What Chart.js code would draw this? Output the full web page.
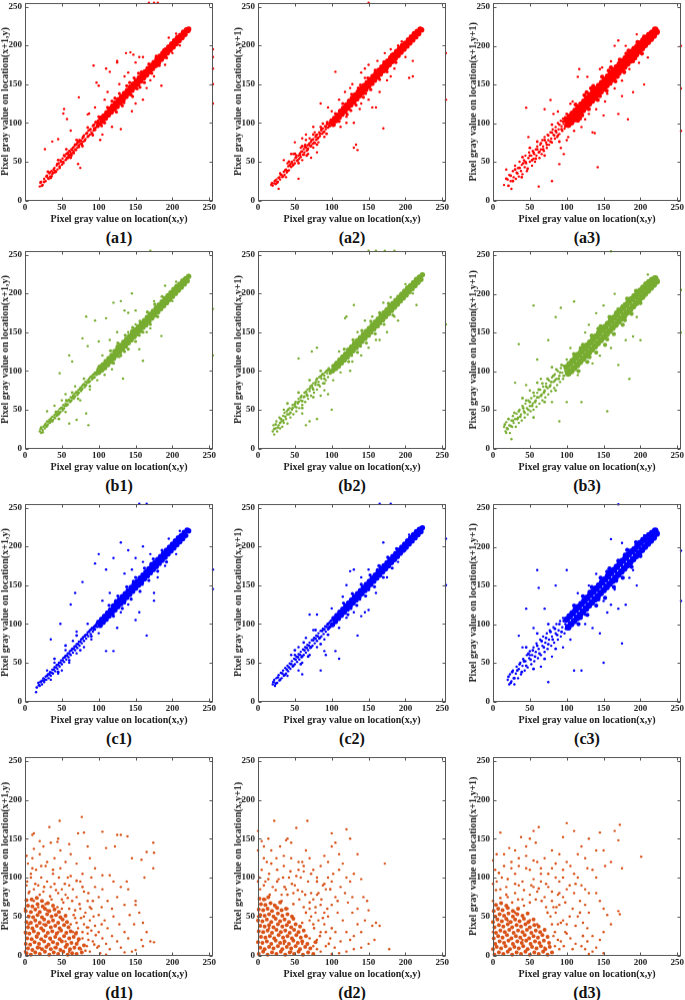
<!DOCTYPE html>
<html><head><meta charset="utf-8">
<script src="https://cdn.jsdelivr.net/npm/chart.js@4"></script>
<style>
body{margin:0;background:#fff;width:685px;height:1000px;position:relative;overflow:hidden}
canvas{position:absolute}
.lab{position:absolute;width:100px;text-align:center;font:bold 16px 'Liberation Serif',serif;line-height:16px;color:#111}
</style></head><body>
<script>
const tickLabels=[0,50,100,150,200,250];
const xTitle='Pixel gray value on location(x,y)';
const yTitles=['Pixel gray value on location(x+1,y)','Pixel gray value on location(x,y+1)','Pixel gray value on location(x+1,y+1)'];
const panelLabels=[['(a1)','(a2)','(a3)'],['(b1)','(b2)','(b3)'],['(c1)','(c2)','(c3)'],['(d1)','(d2)','(d3)']];
const rowColors=['#FF0000','#77AC30','#0000FF','#D95319'];

// ---- row a (red) ----
const a1Core=[101,99,103,106,105,102,107,109,109,106,111,113,113,110,115,118,117,114,119,122,121,118,123,126,125,121,127,130,129,126,131,134,133,130,135,138,137,134,139,142,141,138,143,146,145,142,147,150,149,146,151,154,153,150,155,158,157,154,159,162,161,158,163,166,165,162,167,170,169,166,171,174,173,170,175,178,177,174,179,182,181,178,183,186,185,182,187,190,189,186,191,194,193,190,195,198,197,194,199,202,201,198,203,206,205,202,207,210,209,206,211,213,213,210,215,217,217,214,219,220,221,219,222,221];
const a1Wide=[118,128,124,114,128,138,134,126,138,148,144,136,148,158,152,144,158,166,162,152,168,176,172,164,178,186,182,174,188,194,192,184,122,132,132,122,142,152,146,134,156,146,154,164,112,120,108,100,98,97,96,101,94,93];
const a1Pts=[20,18,22,24,24,20,26,28,28,25,30,32,31,29,33,35,34,31,36,38,37,34,38,36,40,42,41,38,43,45,44,40,46,48,47,44,48,52,50,46,51,54,52,50,54,57,55,52,56,60,57,55,58,62,59,57,60,64,61,59,62,60,63,66,64,61,65,68,66,63,67,70,68,66,70,72,71,68,72,76,73,71,74,78,75,73,76,77,77,74,78,80,79,76,80,84,82,79,83,86,85,82,86,90,88,85,89,92,90,88,92,96,93,90,94,98,96,94,97,100,98,96,99,103,
27,66,37,76,45,79,53,118,52,112,57,105,62,90,73,133,72,47,75,42,85,111,87,112,93,174,97,152,100,148,102,78,110,170,115,166,125,178,125,180,130,92,137,190,143,191,147,188,145,115,150,178,155,185,160,130,165,145,170,155,175,160,185,148,190,175,140,165,135,160,112,140,118,95,105,85,95,120,108,130,160,185,150,125,128,150,200,190,210,200,205,215,195,210,255,195,255,185,255,170,255,150,255,125,168,255,175,255,180,255];
const a1Fill=[21,23,23,19,26,24,29,31,32,28,34,36,35,29,39,40,42,37,44,47,47,42,49,50,52,48,53,58,56,53,58,60,59,55,61,63,60,58,63,58,64,65,66,61,68,72,69,65,71,74,73,69,74,76,77,72,79,82,81,77,84,87,86,83,88,91,91,86,93,97,95,91,97,101,99,95,56,66,62,55,70,78,78,70,85,94,92,84,100,108,104,96,45,52,40,36,36,31,31,37];
const a2Core=[100,101,102,98,104,106,106,103,108,110,110,107,112,115,114,111,116,119,118,115,120,123,122,119,124,128,126,123,128,132,130,127,132,136,134,131,136,140,138,135,140,144,142,139,144,148,146,143,148,152,150,147,152,156,154,151,156,160,158,155,160,164,162,159,164,168,166,163,168,172,170,167,172,176,174,171,176,180,178,175,180,184,182,179,184,188,186,183,188,192,190,187,192,196,194,191,196,200,198,195,200,203,202,199,204,207,206,203,208,211,210,207,212,215,214,211,216,218,218,215,220,221,222,220];
const a2Wide=[115,125,121,111,127,137,133,123,139,149,143,133,149,158,153,143,159,168,165,156,171,179,175,166,181,188,187,178,126,116,136,145,146,138,156,150,97,96,94,99,110,102,105,112];
const a2Pts=[18,20,20,19,22,22,24,21,25,27,27,24,29,30,30,27,32,33,33,30,35,37,36,33,38,40,39,36,41,44,42,39,44,47,45,43,46,50,47,45,49,52,50,48,52,56,53,51,55,58,56,54,57,61,58,56,60,63,61,59,62,66,63,62,65,68,66,64,67,71,68,67,70,74,71,70,72,76,74,73,75,79,76,75,78,82,79,78,80,85,82,81,83,88,84,83,86,90,87,86,88,93,90,89,91,96,92,92,94,98,95,94,30,35,40,48,48,60,52,58,58,68,64,72,70,80,77,88,85,95,60,52,68,60,75,68,82,75,90,82,
35,52,50,75,60,80,65,78,55,28,85,125,95,120,105,166,100,115,110,130,112,95,120,100,130,100,130,68,135,65,133,72,125,145,140,165,145,170,150,175,155,120,160,120,170,93,165,140,175,155,180,160,185,170,190,200,195,205,205,158,210,160,210,180,200,185,150,130,140,125,118,140,128,150,138,118,162,180,172,190,180,195,145,158,120,108,75,95,65,85,45,60,38,30,28,15,80,62,72,55,255,130,255,190,150,255];
const a2Fill=[19,22,23,25,26,23,28,29,31,33,34,31,37,39,40,38,43,45,46,49,48,46,51,55,54,52,57,59,59,63,62,59,64,69,67,65,69,72,72,70,73,78,77,74,79,84,81,80,84,86,86,92,89,88,92,95,94,101,97,99,99,104,60,70,66,58,75,85,80,72,88,99,93,86,55,48,50,60,42,50,113,114,121,121,129,130,137,138,145,146,153,154,161,162,169,170,177,178,185,186,193,194,201,202,209,210,217,217];
const a3Core=[100,104,102,98,104,108,106,101,108,112,110,105,112,116,114,109,116,120,118,113,120,124,122,117,124,128,126,121,128,132,130,125,132,136,134,129,136,140,138,133,140,144,142,137,144,148,146,141,148,152,150,145,152,156,154,149,156,160,158,153,160,164,162,157,164,168,166,161,168,172,170,165,172,176,174,169,176,180,178,173,180,184,182,177,184,188,186,181,188,192,190,185,192,196,194,189,196,199,198,193,200,203,202,197,204,207,206,201,208,210,210,205,212,214,214,209,216,217,218,213,220,221,222,218];
const a3Wide=[112,124,118,106,124,136,130,118,136,148,142,130,148,160,154,142,160,172,166,154,172,182,178,166,184,194,190,180,196,205,202,190,121,110,133,145,145,135,157,168,169,160,181,190,193,184,205,212,115,103,127,140];
const a3Pts=[15,20,18,40,20,27,22,33,24,25,25,15,27,38,28,30,30,45,31,28,32,36,34,42,35,31,36,50,38,38,39,46,40,34,42,52,43,43,44,58,45,48,46,38,48,55,49,62,50,50,52,58,53,45,54,64,55,54,56,60,57,50,58,66,59,58,60,70,62,62,63,55,64,72,65,66,66,60,67,78,68,70,69,64,70,82,72,75,73,68,74,85,75,78,76,72,78,88,79,80,80,75,81,92,82,85,84,80,85,95,86,88,87,82,88,100,89,92,90,86,92,103,93,96,94,90,95,106,96,99,97,93,98,108,99,102,
45,120,48,82,62,18,80,25,70,118,78,130,90,47,96,60,92,68,82,112,88,115,105,125,110,90,115,160,117,170,120,95,128,160,130,112,135,88,138,87,142,43,145,170,148,172,150,110,152,128,160,150,165,200,170,207,170,112,175,135,183,105,190,140,195,215,205,150,210,185,180,200,160,180,140,118,125,105,100,78,108,128,102,82,155,138,165,145,175,155,185,170,198,178,255,145,255,200,255,90];
const a3Fill=[18,28,21,19,24,32,27,25,30,40,33,35,36,42,39,30,41,48,44,50,47,41,50,58,53,52,55,62,58,54,60,66,63,63,65,74,68,66,70,78,73,72,75,84,78,76,80,88,83,84,85,90,88,84,90,98,93,92,95,102,98,96,100,112,104,98,60,76,70,58,80,98,90,76,50,68,40,56,111,110,119,119,127,127,135,135,143,143,151,151,159,159,167,167,175,175,183,183,191,191,199,199,207,207,215,214];

// ---- row b (green) ----
const b1Core=[100,98,102,105,104,101,106,108,108,104,110,112,112,108,114,116,116,112,118,120,120,116,122,125,124,120,126,129,128,124,130,133,132,128,134,137,136,132,138,141,140,136,142,145,144,140,146,149,148,144,150,153,152,148,154,157,156,152,158,161,160,156,162,165,164,160,166,169,168,164,170,173,172,168,174,177,176,172,178,181,180,176,182,185,184,180,186,189,188,184,190,193,192,188,194,197,196,192,198,201,200,196,202,205,204,200,206,209,208,204,210,212,212,208,214,216,216,212,218,219,220,216,222,222];
const b1Wide=[116,126,120,110,126,136,130,120,136,146,140,128,146,156,150,138,156,164,160,150,166,176,170,160,176,186,180,170,186,196,125,132,135,125,145,152,155,146,165,158,96,97,94,92];
const b1Pts=[20,22,21,25,22,20,24,24,25,28,27,26,28,32,29,28,30,35,31,31,33,37,34,33,35,39,36,36,37,41,38,37,40,43,41,39,42,45,43,42,45,48,46,44,47,51,48,47,50,53,51,49,52,56,53,52,55,58,56,55,57,61,58,57,60,63,61,60,62,66,63,62,65,68,66,64,67,70,68,67,70,73,71,69,72,75,73,72,75,78,76,74,77,80,78,77,80,83,81,79,82,86,83,82,85,88,86,85,87,90,88,87,90,93,91,89,92,95,93,91,95,98,97,95,98,101,99,97,
30,48,45,45,47,97,50,62,55,47,60,32,60,120,64,112,70,37,78,142,83,170,85,132,86,30,83,45,95,165,100,138,105,120,110,168,115,140,120,188,120,110,125,150,130,190,133,90,135,178,140,175,145,200,150,178,155,128,160,113,165,150,170,155,175,190,185,145,195,195,200,190,190,210,205,215,150,160,140,150,128,118,118,102,108,95,98,88,88,76,75,62,68,80,55,70,40,55,255,180,255,120,170,255];
const b1Fill=[22,27,24,21,27,30,30,29,32,34,35,36,37,35,40,40,42,47,44,43,47,46,49,52,52,51,54,55,57,56,59,62,62,61,64,65,67,66,69,72,72,71,74,76,77,76,79,82,82,81,84,85,87,86,89,92,92,91,94,96,97,98,99,103,64,72,72,64,80,90,88,80,56,62,46,38,113,114,121,121,129,129,137,137,145,145,153,153,161,161,169,169,177,177,185,185,193,193,201,201,209,209,217,216];
const b2Core=[101,100,103,106,105,103,107,110,109,106,111,114,113,110,115,118,117,114,119,122,121,118,123,127,125,122,127,131,129,126,131,135,133,130,135,139,137,134,139,143,141,138,143,147,145,142,147,151,149,146,151,155,153,150,155,159,157,154,159,163,161,158,163,167,165,162,167,171,169,166,171,175,173,170,175,179,177,174,179,183,181,178,183,187,185,182,187,191,189,186,191,195,193,190,195,199,197,194,199,203,201,198,203,207,205,202,207,210,209,206,211,214,213,210,215,218,217,214,219,221,221,218,223,224];
const b2Wide=[117,128,123,112,129,140,135,124,141,152,147,136,153,164,159,148,165,175,171,160,177,187,183,172,127,120,139,132,151,145,163,157,98,97,95,101];
const b2Pts=[20,22,21,30,22,18,24,26,25,35,26,22,28,30,29,40,30,26,32,35,33,28,34,42,35,33,36,46,38,38,39,48,40,32,42,44,43,52,44,40,46,50,47,56,48,44,50,54,51,60,52,48,54,58,55,64,56,52,58,62,59,68,60,56,62,66,63,72,64,60,66,70,67,76,68,64,70,74,71,80,72,68,74,78,75,84,76,72,78,82,79,88,80,76,82,86,83,92,84,80,86,90,87,95,88,84,90,94,91,98,92,88,94,97,95,92,97,100,
35,50,55,116,73,125,80,130,65,30,70,35,80,38,90,75,95,70,100,50,105,110,110,125,118,168,120,170,125,100,130,185,140,120,150,130,155,170,160,140,165,140,170,188,175,150,180,195,185,170,190,165,200,212,215,185,210,200,145,165,135,150,128,112,112,98,102,88,85,68,60,45,150,255,160,255,172,255,185,255,255,160];
const b2Fill=[22,25,24,31,27,27,30,33,31,38,34,36,37,41,40,44,41,50,44,46,47,52,50,57,52,53,55,60,58,66,60,61,63,67,65,73,67,68,70,77,73,81,75,76,78,85,80,90,82,82,85,93,88,96,90,90,93,100,96,103,98,99,40,58,55,72,70,88,85,100,60,52,75,66,90,84,115,116,123,124,131,132,139,140,147,148,155,156,163,164,171,172,179,180,187,188,195,196,203,204,211,212,219,219];
const b3Core=[100,105,102,97,104,109,106,100,108,113,110,104,112,117,114,108,116,121,118,112,120,125,122,116,124,129,126,120,128,133,130,124,132,137,134,128,136,141,138,132,140,145,142,136,144,149,146,140,148,153,150,144,152,157,154,148,156,161,158,152,160,165,162,156,164,169,166,160,168,173,170,164,172,177,174,168,176,181,178,172,180,185,182,176,184,189,186,180,188,193,190,184,192,197,194,188,196,200,198,192,200,204,202,196,204,208,206,200,208,212,210,204,212,215,214,208,216,218,218,212,220,220,222,216];
const b3Wide=[110,122,116,100,122,134,128,112,134,146,140,124,146,158,152,134,158,170,164,148,170,180,176,160,182,194,188,174,194,204,200,188,119,130,131,118,143,155,155,141,167,176,179,166];
const b3Pts=[15,28,17,22,18,34,20,25,22,30,23,20,25,36,26,28,27,42,28,33,30,38,31,28,32,45,34,40,35,33,36,50,38,44,39,36,40,55,42,48,43,40,44,58,46,52,47,44,48,62,50,55,51,48,52,65,54,58,55,50,56,68,58,62,59,54,60,72,62,66,63,58,64,76,66,70,67,62,68,80,70,74,71,66,72,84,74,78,75,70,76,88,78,82,79,74,80,92,82,86,83,78,84,96,86,90,87,82,88,100,90,94,91,86,92,104,94,98,95,90,96,107,98,100,
18,20,25,12,30,85,35,135,45,82,55,185,60,115,70,75,75,140,85,170,90,35,92,182,100,60,105,130,110,190,120,60,125,150,130,160,140,175,150,185,155,48,160,130,165,200,170,108,175,185,180,140,185,90,190,145,200,140,205,195,210,225,195,170,145,120,135,110,115,95,100,115,80,60,65,90,50,75,255,150,255,205,160,255];
const b3Fill=[16,31,19,26,21,38,24,29,27,36,29,46,33,38,35,48,37,41,41,52,43,46,45,62,48,50,50,60,53,55,55,72,57,60,60,66,62,76,65,68,67,84,69,72,72,80,74,90,77,80,79,86,82,94,84,88,86,102,89,90,91,98,93,108,96,94,98,104,55,40,70,60,85,75,40,65,60,85,80,105,111,112,119,120,127,128,135,136,143,144,151,152,159,160,167,168,175,176,183,184,191,192,199,200,207,208,215,214];

// ---- row c (blue) ----
const c1Core=[100,102,102,98,104,106,106,102,108,110,110,106,112,114,114,110,116,118,118,114,120,123,122,118,124,127,126,122,128,131,130,126,132,135,134,130,136,139,138,134,140,143,142,138,144,147,146,142,148,151,150,146,152,155,154,150,156,159,158,154,160,163,162,158,164,167,166,162,168,171,170,166,172,175,174,170,176,179,178,174,180,183,182,178,184,187,186,182,188,191,190,186,192,195,194,190,196,199,198,194,200,203,202,198,204,207,206,202,208,211,210,206,212,214,214,210,216,218,218,214,220,221,222,220];
const c1Wide=[114,124,120,110,126,136,132,120,138,148,144,132,150,160,156,142,162,172,168,156,174,184,180,168,186,195,192,180,123,130,135,127,147,155,159,151,171,178,96,98,94,93];
const c1Pts=[15,12,18,24,20,20,22,26,23,22,25,30,26,25,28,32,29,28,31,35,32,30,34,38,35,33,37,41,38,36,40,44,41,39,43,47,44,42,46,50,47,45,49,53,50,48,52,56,53,51,55,59,56,54,58,62,59,57,61,65,62,60,64,68,65,63,67,71,68,66,70,74,71,69,73,77,74,72,76,80,77,75,79,83,80,78,82,86,83,81,85,89,86,84,88,92,89,87,91,95,92,90,94,97,95,93,97,100,98,96,30,40,40,50,50,40,60,50,70,62,80,70,65,78,55,66,45,36,35,28,
35,80,48,100,62,125,68,140,78,154,95,178,100,190,110,170,120,185,130,205,140,195,160,200,160,180,110,65,120,65,125,95,150,105,155,115,165,85,175,130,175,140,90,80,105,130,115,140,135,165,145,170,150,185,170,190,180,160,190,175,195,210,205,190,210,220,140,125,130,115,100,88,85,100,70,90,255,170,255,145,155,255,165,255];
const c1Fill=[16,18,19,21,21,25,24,27,27,28,30,33,33,35,36,37,39,41,42,44,45,47,48,50,51,53,54,57,57,59,60,62,63,66,66,68,69,71,72,74,75,77,78,81,81,84,84,86,87,90,90,93,93,95,96,97,99,102,40,55,55,72,70,85,45,38,60,53,75,66,90,84,113,112,121,120,129,128,137,136,145,144,153,152,161,160,169,168,177,176,185,184,193,192,201,200,209,208,217,217];
const c2Core=[101,99,103,107,105,103,107,111,109,107,111,115,113,111,115,119,117,115,119,123,121,119,123,127,125,123,127,131,129,127,131,135,133,131,135,139,137,135,139,143,141,139,143,147,145,143,147,151,149,147,151,155,153,151,155,159,157,155,159,163,161,159,163,167,165,163,167,171,169,167,171,175,173,171,175,179,177,175,179,183,181,179,183,187,185,183,187,191,189,187,191,195,193,191,195,199,197,195,199,203,201,199,203,207,205,203,207,211,209,207,211,215,213,211,215,219,217,215,219,222,221,219,223,224];
const c2Wide=[116,127,122,112,128,139,134,124,140,151,146,136,152,163,158,148,164,175,170,160,176,186,182,172,188,197,126,120,138,132,150,144,162,170,97,96,95,100];
const c2Pts=[20,22,22,28,23,20,25,30,26,24,28,34,29,27,31,37,32,30,34,40,35,33,37,43,38,36,40,46,41,39,43,49,44,42,46,52,47,45,49,55,50,48,52,58,53,51,55,61,56,54,58,64,59,57,61,67,62,60,64,70,65,63,67,73,68,66,70,76,71,69,73,79,74,72,76,82,77,75,79,85,80,78,82,88,83,81,85,91,86,84,88,94,89,87,91,97,92,90,94,99,95,93,97,102,98,96,45,60,55,70,65,82,75,92,60,50,70,60,80,70,90,80,
40,33,50,60,55,40,60,35,70,112,80,112,85,40,90,65,92,60,105,65,110,55,125,168,130,170,135,85,140,110,145,115,150,118,160,140,165,175,170,205,175,160,185,190,190,180,200,195,205,215,115,135,120,150,100,120,110,95,130,115,150,170,140,160,120,108,255,150,255,210,165,255,180,255];
const c2Fill=[21,25,24,23,27,31,30,28,33,36,36,34,39,41,42,44,45,48,48,46,51,54,54,57,57,60,60,58,63,66,66,69,69,72,72,70,75,79,78,81,81,84,84,82,87,91,90,93,93,96,96,94,99,104,50,66,62,76,78,92,58,48,68,58,85,74,95,86,114,114,122,122,130,130,138,138,146,146,154,154,162,162,170,170,178,178,186,186,194,194,202,202,210,210,218,218];
const c3Core=[100,106,102,96,104,110,106,100,108,114,110,104,112,118,114,108,116,122,118,112,120,126,122,116,124,130,126,120,128,134,130,124,132,138,134,128,136,142,138,132,140,146,142,136,144,150,146,140,148,154,150,144,152,158,154,148,156,162,158,152,160,166,162,156,164,170,166,160,168,174,170,164,172,178,174,168,176,182,178,172,180,186,182,176,184,190,186,180,188,194,190,184,192,197,194,188,196,201,198,192,200,205,202,196,204,209,206,200,208,212,210,204,212,215,214,208,216,218,218,212,220,221,222,217];
const c3Wide=[110,124,116,100,122,136,128,112,134,148,140,124,146,160,152,134,158,172,164,148,170,182,176,160,182,196,188,174,194,206,200,188,119,108,131,142,143,132,155,168,167,156,179,190];
const c3Pts=[20,28,22,22,23,35,25,26,27,40,28,30,29,22,31,36,32,45,34,30,35,42,37,50,38,35,40,46,41,55,43,40,44,52,46,60,47,44,49,56,50,65,52,48,53,60,55,70,56,52,58,64,59,75,61,56,62,68,64,80,65,60,67,72,68,84,70,64,71,76,73,88,74,68,76,80,77,92,79,72,80,84,82,96,83,76,85,88,86,100,88,80,89,92,91,104,92,84,94,96,95,108,97,88,98,100,
35,85,40,70,45,120,50,60,55,95,60,170,62,147,70,120,75,25,85,150,100,170,105,80,110,40,120,40,125,100,135,95,145,88,150,50,155,115,160,125,160,210,170,120,175,75,175,205,180,125,190,170,195,150,205,215,140,165,130,150,115,140,150,130,165,145,185,160,125,112,95,70,80,58,65,45,255,130,255,195,170,255];
const c3Fill=[21,32,24,24,26,38,29,30,33,40,36,48,39,38,42,52,45,46,48,62,51,54,54,66,57,58,60,72,63,62,66,78,69,70,72,82,75,74,78,90,81,80,84,94,87,86,90,100,93,90,96,104,99,94,45,70,60,88,75,100,55,42,70,55,85,68,111,111,119,119,127,127,135,135,143,143,151,151,159,159,167,167,175,175,183,183,191,191,199,199,207,207,215,214];

// ---- row d (orange) ----
const d1Core=[2,3,8,1,14,4,20,2,27,5,33,1,39,4,45,2,52,5,58,1,64,3,70,2,77,4,
4,9,10,7,17,10,23,8,29,11,35,8,42,10,48,7,55,11,61,8,67,10,74,9,
1,15,7,14,13,17,19,15,26,18,32,14,38,17,44,15,50,18,57,14,63,16,70,15,80,13,
3,22,9,21,16,24,22,21,28,25,34,22,41,24,47,21,53,25,60,22,66,24,73,21,
1,29,6,28,12,31,18,28,25,32,31,29,37,31,43,28,49,32,56,29,62,31,69,28,
4,36,10,35,16,38,22,35,28,39,35,36,41,38,47,35,53,39,59,36,
2,43,8,42,14,45,20,42,26,46,32,43,38,45,45,42,51,46,57,43,
5,50,11,49,17,52,23,49,30,53,36,50,42,52,48,49,55,51,
1,57,8,56,14,59,20,56,27,60,33,57,40,59,46,56,
4,64,10,63,17,66,24,63,31,67,38,64,2,71,9,72,16,74,23,70];
const d1Pts=[5,80,12,85,3,95,18,90,25,82,8,105,15,110,30,95,35,88,22,100,40,92,45,80,50,85,55,78,60,90,28,115,38,105,48,112,58,100,65,85,70,75,75,95,80,82,85,70,90,100,95,88,100,75,
4,118,10,125,20,130,12,137,25,140,35,145,45,150,40,125,55,120,62,130,70,118,78,105,88,125,95,112,105,103,
10,155,12,157,33,165,47,173,77,178,72,157,80,158,105,159,125,155,130,155,139,153,110,138,122,140,85,140,60,143,44,146,20,147,48,135,
75,60,82,55,88,45,95,38,100,30,105,22,110,15,115,8,85,28,92,18,98,10,80,40,90,60,100,52,108,45,112,35,118,25,125,18,130,10,120,50,128,40,135,30,140,22,142,52,148,40,150,65,155,55,160,42,158,20,165,30,170,18,175,17,130,88,138,95,145,125,158,123,165,133,162,100,174,145,175,132,174,112,120,95,115,103,105,85,125,75,135,65,140,85,150,70,102,3,110,1,145,5,150,7,135,4,160,12,
68,48,72,35,78,22,84,12,88,5,76,8,70,30,86,36,93,50,104,62,112,70,118,60];
const d1Fill=[62,40,66,52,72,18,78,30,82,6,86,20,90,32,94,14,70,42,76,48,84,36,60,60,64,70,52,68,44,62,36,72,28,66,20,78,12,70,6,82,2,90,14,92,26,88,34,76,42,84,50,72,58,74,68,58,74,66,80,50,88,62,96,26,100,12,104,40,92,70,86,80,78,88,70,96,62,102,54,92,46,100,38,110,30,120,22,115,10,112,2,128,8,100,18,62,30,58,50,60,45,30,25,40,15,25,35,20,55,18,65,30,40,10,20,10,5,40,0,5,0,60,0,30,60,5];
const d2Core=[1,2,7,5,13,1,19,4,25,2,31,5,37,1,43,4,49,2,55,5,61,1,68,4,75,2,
3,10,9,8,15,11,21,9,27,12,33,8,39,11,45,9,51,12,57,8,64,11,71,9,
0,17,6,16,12,18,18,15,24,19,30,16,36,18,42,15,48,19,54,16,60,18,67,15,78,17,
4,24,10,23,16,25,22,22,28,26,34,23,40,25,46,22,52,26,58,23,65,25,
1,31,7,30,13,32,19,29,25,33,31,30,37,32,43,29,49,33,55,30,62,32,
3,38,9,37,15,39,21,36,27,40,33,37,39,39,45,36,51,40,57,37,
0,45,6,44,12,46,18,43,24,47,30,44,36,46,42,43,48,47,
3,52,9,51,15,53,21,50,27,54,33,51,40,53,46,50,
1,59,7,58,13,60,19,57,26,61,32,58,38,60,4,66,10,65,17,67,23,64,30,68,2,73,8,72,14,75];
const d2Pts=[0,160,5,147,22,173,52,164,67,173,100,157,120,162,125,150,172,118,178,8,3,85,10,95,5,110,15,105,20,88,28,98,12,120,25,125,18,135,30,140,40,150,45,145,35,115,42,100,50,90,55,110,60,120,65,135,70,125,75,110,80,100,85,115,90,128,95,120,100,140,105,145,110,130,115,118,120,100,125,95,130,105,135,130,140,98,143,75,148,70,150,58,155,38,160,42,165,38,158,20,150,15,140,10,130,8,120,5,110,3,100,2,135,40,128,55,122,68,118,80,112,88,105,75,100,65,95,50,90,40,85,30,80,20,75,12,70,45,78,55,85,65,92,85,100,95,108,55,115,45,120,30,125,20,112,18,105,30,98,22,92,12,85,5,60,82,48,80,38,85,32,78,72,80,80,78,88,90,68,95,58,100,45,125,35,128,8,140,14,150,38,148,55,120,62,108,70,60,75,72,82,45,90,55,130,25,140,30,145,45,135,60,128,75,110,110,102,105,95,100];
const d2Fill=[60,42,65,55,70,22,76,35,80,8,84,25,88,48,92,30,96,15,72,50,62,62,56,72,48,66,40,78,32,70,24,84,16,78,8,90,2,100,14,98,26,95,36,88,46,92,54,84,64,78,70,68,78,62,86,72,94,60,100,35,104,10,108,70,98,85,90,92,80,95,72,105,62,115,52,102,44,108,34,100,26,110,18,118,8,125,0,135,10,72,22,65,40,60,55,30,35,15,15,35,60,15,45,5,0,95,0,50,75,40,82,80];
const d3Core=[2,1,8,4,14,2,20,5,26,1,32,4,38,2,44,5,50,1,56,4,62,2,68,5,74,1,80,4,
0,8,5,11,11,9,17,12,23,8,29,11,35,9,41,12,47,8,53,11,59,9,65,12,71,8,77,11,
3,15,9,18,15,16,21,19,27,15,33,18,39,16,45,19,51,15,57,18,63,16,69,19,76,16,
1,22,7,25,13,23,19,26,25,22,31,25,37,23,43,26,49,22,55,25,61,23,67,26,74,24,
4,29,10,32,16,30,22,33,28,29,34,32,40,30,46,33,52,29,58,32,64,30,70,33,
2,36,8,39,14,37,20,40,26,36,32,39,38,37,44,40,50,36,56,39,62,37,
0,43,6,46,12,44,18,47,24,43,30,46,36,44,42,47,48,43,55,46,
3,50,9,53,15,51,21,54,27,50,33,53,40,51,47,54,1,57,7,60,13,58,20,61,27,57,34,60,4,65,11,67,18,64];
const d3Pts=[0,122,10,158,62,165,55,160,100,170,172,168,170,148,175,112,170,57,172,53,201,127,5,95,12,100,3,110,18,88,25,112,15,130,22,138,30,105,35,115,40,95,45,128,50,110,55,98,60,120,65,105,70,125,75,88,80,112,85,100,90,95,95,110,100,120,105,115,110,105,115,100,120,90,125,85,130,80,135,110,140,80,145,70,150,60,155,52,160,40,150,30,145,20,140,10,135,5,125,8,120,12,112,15,105,22,98,30,92,18,88,40,82,25,78,50,85,55,90,65,95,75,100,85,108,60,115,50,122,42,128,35,135,25,130,55,125,65,118,70,110,80,100,40,95,45,90,8,84,12,150,3,130,2,45,140,50,150,58,145,38,152,30,135,80,135,90,130,95,152,110,160,120,140,125,125,130,150,140,135,145,158,150,135,160,120,165,160,20,75,30,80,40,72,50,78,60,82,70,75,80,70,72,62,82,62,88,78,65,95,55,88,35,90,10,85,152,115,140,100,128,112,115,130];
const d3Fill=[84,30,88,20,92,42,96,12,100,28,104,50,108,8,112,38,86,62,80,40,74,55,66,70,58,72,50,68,42,64,34,72,26,68,18,78,10,74,4,84,0,92,8,106,20,98,30,92,42,84,52,90,62,86,72,92,80,82,90,80,98,68,104,90,112,92,118,55,122,25,128,18,95,100,85,118,75,105,65,112,55,122,45,112,35,125,25,120,15,115,5,130,60,40,40,20,20,45,0,70,0,30,70,10,50,45,30,55];
const dWide=[[],[],[]];

const panelData=[
  [[a1Core,a1Wide,a1Fill,a1Pts],[a2Core,a2Wide,a2Fill,a2Pts],[a3Core,a3Wide,a3Fill,a3Pts]],
  [[b1Core,b1Wide,b1Fill,b1Pts],[b2Core,b2Wide,b2Fill,b2Pts],[b3Core,b3Wide,b3Fill,b3Pts]],
  [[c1Core,c1Wide,c1Fill,c1Pts],[c2Core,c2Wide,c2Fill,c2Pts],[c3Core,c3Wide,c3Fill,c3Pts]],
  [[d1Core,dWide[0],d1Fill,d1Pts],[d2Core,dWide[1],d2Fill,d2Pts],[d3Core,dWide[2],d3Fill,d3Pts]]];

function toXY(arr){const o=[];for(let i=0;i+1<arr.length;i+=2)o.push({x:arr[i],y:arr[i+1]});return o;}

const colLeft=[25,258,493], rowTop=[2,250,503,757];
const PW=188, PH=198, YW=25, XH=23.5, PT=2, PR=4;
const coreRadius=[2.7,2.7,3.3], wideRadius=[1.6,1.6,2.1];
const FONT="'Liberation Serif', 'Times New Roman', serif";

const framePlugin={id:'frame',afterDraw(c){
  const ctx=c.ctx,a=c.chartArea,sx=c.scales.x,sy=c.scales.y;
  ctx.save();
  ctx.strokeStyle='#555';ctx.lineWidth=1;
  const L=Math.round(a.left)+.5,R=Math.round(a.right)-.5,T=Math.round(a.top)+.5,B=Math.round(a.bottom)-.5;
  ctx.strokeRect(L,T,R-L,B-T);
  ctx.beginPath();
  for(const v of tickLabels){
    const px=Math.round(sx.getPixelForValue(v))+.5;
    ctx.moveTo(px,B);ctx.lineTo(px,B-3);ctx.moveTo(px,T);ctx.lineTo(px,T+3);
    const py=Math.round(sy.getPixelForValue(v))+.5;
    ctx.moveTo(L,py);ctx.lineTo(L+3,py);ctx.moveTo(R,py);ctx.lineTo(R-3,py);
  }
  ctx.stroke();ctx.restore();
}};

for(let r=0;r<4;r++){
  for(let col=0;col<3;col++){
    const cv=document.createElement('canvas');
    const w=YW+PW+PR, h=PT+PH+XH;
    cv.width=w;cv.height=h;
    cv.style.left=(colLeft[col]-YW)+'px';cv.style.top=(rowTop[r]-PT)+'px';
    cv.style.width=w+'px';cv.style.height=h+'px';
    document.body.appendChild(cv);
    const color=rowColors[r];
    const [core,wide,fill,pts]=panelData[r][col];
    const isD=r===3;
    const ds=(d,rad)=>({data:toXY(d),pointRadius:rad,pointBackgroundColor:color,pointBorderWidth:0,pointBorderColor:color,pointHoverRadius:0,clip:4});
    new Chart(cv,{type:'scatter',
      data:{datasets:[ds(core,isD?2.0:coreRadius[col]),ds(wide,wideRadius[col]),ds(fill,isD?1.3:1.4),ds(pts,1.2)]},
      options:{responsive:false,animation:false,events:[],
        layout:{padding:{top:PT,right:PR,left:0,bottom:0}},
        plugins:{legend:{display:false},tooltip:{enabled:false}},
        scales:{
          x:{type:'linear',min:0,max:255,
            afterBuildTicks:s=>{s.ticks=tickLabels.map(v=>({value:v}));},
            afterFit:s=>{s.height=XH;s.paddingLeft=0;s.paddingRight=0;},
            grid:{display:false,drawTicks:false},border:{display:false},
            ticks:{font:{family:FONT,weight:'bold',size:9},color:'#222',padding:2,maxRotation:0,autoSkip:false},
            title:{display:true,text:xTitle,font:{family:FONT,weight:'bold',size:10,lineHeight:1},color:'#222',padding:0}},
          y:{type:'linear',min:0,max:255,
            afterBuildTicks:s=>{s.ticks=tickLabels.map(v=>({value:v}));},
            afterFit:s=>{s.width=YW;s.paddingTop=0;s.paddingBottom=0;},
            grid:{display:false,drawTicks:false},border:{display:false},
            ticks:{font:{family:FONT,weight:'bold',size:9},color:'#222',padding:3,autoSkip:false},
            title:{display:true,text:yTitles[col],font:{family:FONT,weight:'bold',size:10,lineHeight:1},color:'#222',padding:0}}
        }},
      plugins:[framePlugin]});
    const lab=document.createElement('div');
    lab.className='lab';lab.textContent=panelLabels[r][col];
    lab.style.left=(colLeft[col]+PW/2-50)+'px';
    lab.style.top=(rowTop[r]+PH+38-8)+'px';
    document.body.appendChild(lab);
  }
}
</script>
</body></html>
